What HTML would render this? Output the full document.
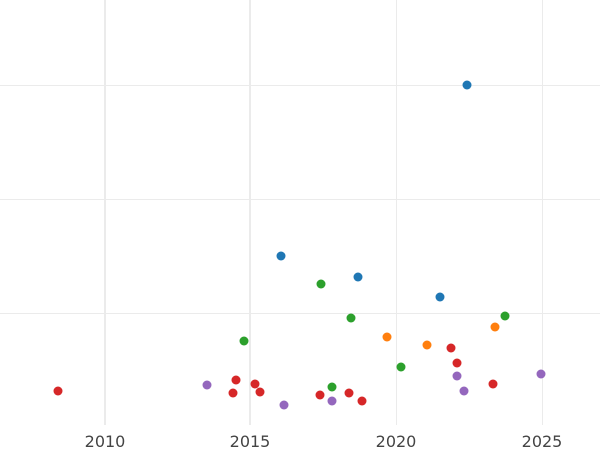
<!DOCTYPE html>
<html><head><meta charset="utf-8"><style>
html,body{margin:0;padding:0;background:#fff;}
svg{display:block;}
text{font-family:"DejaVu Sans",sans-serif;font-size:16px;fill:#444;}
</style></head><body>
<svg width="600" height="450" xmlns="http://www.w3.org/2000/svg">
<rect width="600" height="450" fill="#fff"/>
<g stroke="#ebebeb" stroke-width="1">
<line x1="0" y1="85.5" x2="600" y2="85.5"/>
<line x1="0" y1="199.5" x2="600" y2="199.5"/>
<line x1="0" y1="313.5" x2="600" y2="313.5"/>
<line x1="396.5" y1="0" x2="396.5" y2="425"/>
<line x1="542.5" y1="0" x2="542.5" y2="425"/>
</g>
<g stroke="#ebebeb" stroke-width="2">
<line x1="105" y1="0" x2="105" y2="425"/>
<line x1="250" y1="0" x2="250" y2="425"/>
</g>
<g text-anchor="middle">
<text x="105" y="447">2010</text>
<text x="250" y="447">2015</text>
<text x="396" y="447">2020</text>
<text x="542" y="447">2025</text>
</g>
<g fill="#1f77b4">
<circle cx="467" cy="85" r="4.5"/><circle cx="281" cy="256" r="4.5"/><circle cx="358" cy="277" r="4.5"/><circle cx="440" cy="297" r="4.5"/>
</g>
<g fill="#2ca02c">
<circle cx="321" cy="284" r="4.5"/><circle cx="244" cy="341" r="4.5"/><circle cx="351" cy="318" r="4.5"/><circle cx="505" cy="316" r="4.5"/><circle cx="401" cy="367" r="4.5"/><circle cx="332" cy="387" r="4.5"/>
</g>
<g fill="#ff7f0e">
<circle cx="387" cy="337" r="4.5"/><circle cx="427" cy="345" r="4.5"/><circle cx="495" cy="327" r="4.5"/>
</g>
<g fill="#d62728">
<circle cx="58" cy="391" r="4.5"/><circle cx="236" cy="380" r="4.5"/><circle cx="233" cy="393" r="4.5"/><circle cx="255" cy="384" r="4.5"/><circle cx="260" cy="392" r="4.5"/><circle cx="320" cy="395" r="4.5"/><circle cx="349" cy="393" r="4.5"/><circle cx="362" cy="401" r="4.5"/><circle cx="451" cy="348" r="4.5"/><circle cx="457" cy="363" r="4.5"/><circle cx="493" cy="384" r="4.5"/>
</g>
<g fill="#9467bd">
<circle cx="207" cy="385" r="4.5"/><circle cx="284" cy="405" r="4.5"/><circle cx="332" cy="401" r="4.5"/><circle cx="457" cy="376" r="4.5"/><circle cx="464" cy="391" r="4.5"/><circle cx="541" cy="374" r="4.5"/>
</g>
</svg>
</body></html>
